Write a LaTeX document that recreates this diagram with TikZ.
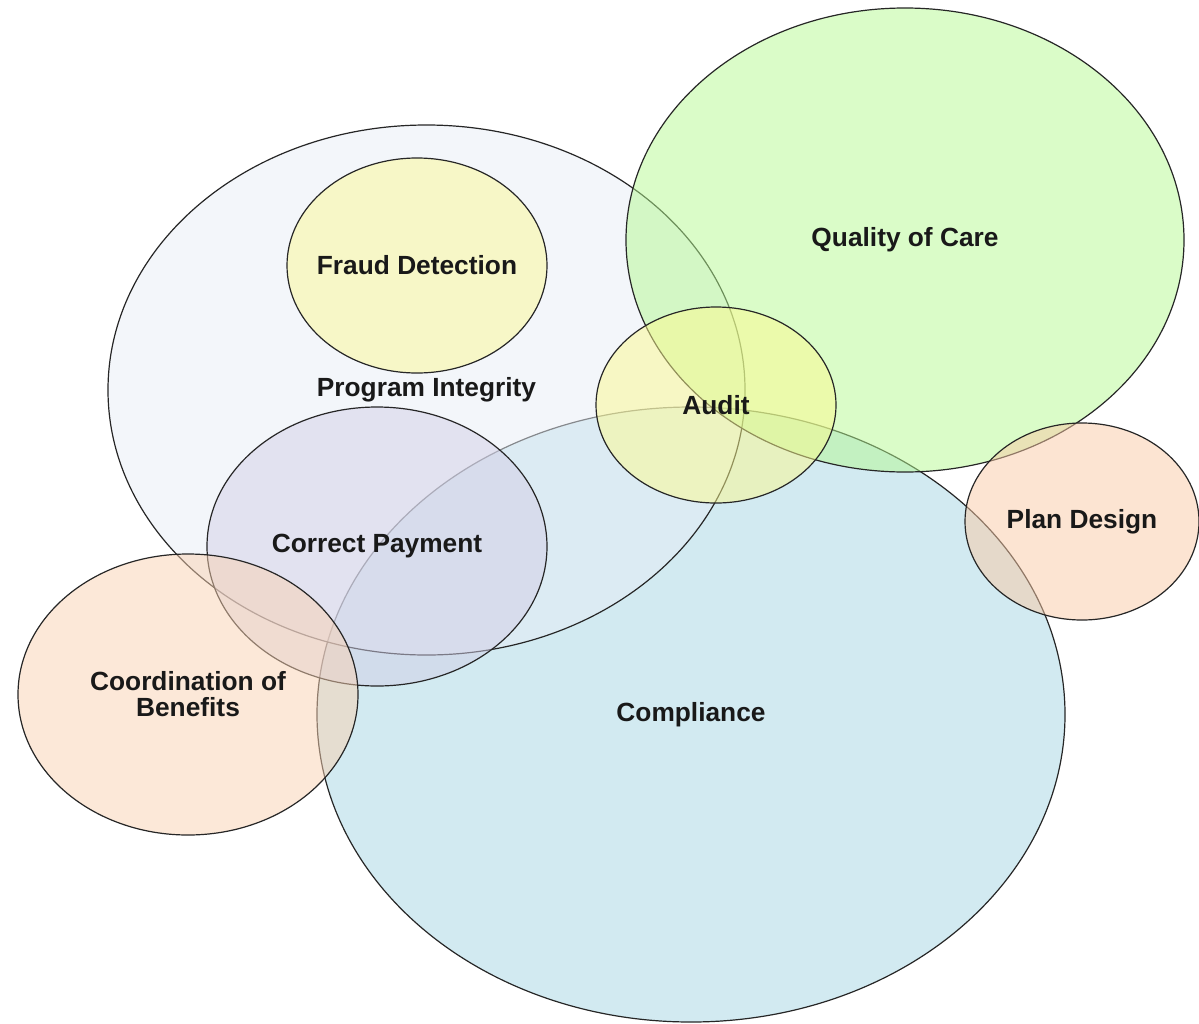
\documentclass[tikz,border=0pt]{standalone}
\usepackage{fontspec}
\setmainfont{Liberation Sans}
\usepackage{xcolor}
\usepackage{tikz}
\usetikzlibrary{shapes.geometric}

\definecolor{complianceblue}{RGB}{165,213,227}
\definecolor{integritygray}{RGB}{231,237,245}
\definecolor{caregreen}{RGB}{181,249,145}
\definecolor{fraudyellow}{RGB}{253,250,150}
\definecolor{paymentlilac}{RGB}{209,206,230}
\definecolor{audityellow}{RGB}{253,250,142}
\definecolor{benefitspeach}{RGB}{249,209,177}
\definecolor{designpeach}{RGB}{249,201,165}

\begin{document}
\begin{tikzpicture}
  [ x=1pt, y=-1pt,
    area/.style={ellipse, draw=black!85, line width=1.2pt,
      fill opacity=0.5, text opacity=1, inner sep=0pt, align=center,
      text=black!90, font=\fontsize{26.3}{26}\selectfont\bfseries}
  ]
  \useasboundingbox (0,0) rectangle (1199,1023);

  \node (compliance)   at ( 691,714.5) [area, fill=complianceblue,
    minimum width=748pt, minimum height=615pt] {Compliance};
  \node (integrity)    at ( 426.5,390) [area, fill=integritygray,
    minimum width=637pt, minimum height=530pt] {Program Integrity};
  \node (quality)      at ( 905,240)   [area, fill=caregreen,
    minimum width=558pt, minimum height=464pt] {Quality of Care};
  \node (fraud)        at ( 417,265.5) [area, fill=fraudyellow,
    minimum width=260pt, minimum height=215pt] {\makebox[0pt]{Fraud Detection}};
  \node (payment)      at ( 377,546.5) [area, fill=paymentlilac,
    minimum width=340pt, minimum height=279pt] {Correct Payment};
  \node (audit)        at ( 716,405)   [area, fill=audityellow,
    minimum width=240pt, minimum height=196pt] {Audit};
  \node (coordination) at ( 188,694.5) [area, fill=benefitspeach,
    minimum width=340pt, minimum height=281pt] {Coordination of\\Benefits};
  \node (plandesign)   at (1082,521.5) [area, fill=designpeach,
    minimum width=234pt, minimum height=197pt] {Plan Design};
\end{tikzpicture}
\end{document}
